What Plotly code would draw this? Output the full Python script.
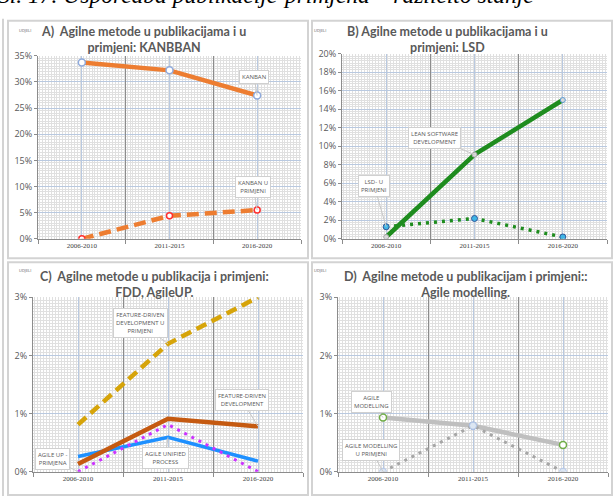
import plotly.graph_objects as go

W, H = 614, 502

categories = ["2006-2010", "2011-2015", "2016-2020"]

# A) KANBAN
kanban = [0.337, 0.322, 0.274]
kanban_primjena = [0.0, 0.044, 0.055]
# B) LSD
lsd = [0.002, 0.091, 0.150]
lsd_primjena = [0.013, 0.022, 0.002]
# C) FDD, AgileUP
fdd_primjena = [0.0081, 0.022, 0.030]
fdd = [0.0013, 0.0091, 0.0078]
agile_up = [0.0026, 0.0059, 0.0018]
agile_up_primjena = [0.0, 0.0081, 0.0]
# D) Agile modelling
agile_modelling = [0.0093, 0.0079, 0.0046]
agile_modelling_primjena = [0.0, 0.0079, 0.0]

xs = [i + 0.5 for i in range(len(categories))]
bounds = list(range(len(categories) + 1))


def px(x):
    return x / W


def py(y):
    return 1 - y / H


GREY_TXT = "#595959"
BLUE_GRID = "#B9C9E0"
MINOR_GRID = "#E0E0E0"

# panel: base axis suffix, overlay axis suffix (carries the traces), plot box in px (l, t, r, b),
# y range, y dtick, y minor dtick
panels = [
    dict(ax="", ov="5", box=(38, 50, 301, 238), yr=0.35, dt=0.05, mdt=0.005),
    dict(ax="2", ov="6", box=(342, 48, 607, 238), yr=0.20, dt=0.02, mdt=0.0025),
    dict(ax="3", ov="7", box=(33, 298, 303, 477), yr=0.03, dt=0.01, mdt=0.0005),
    dict(ax="4", ov="8", box=(338, 298, 608, 477), yr=0.03, dt=0.01, mdt=0.0005),
]
ov_of = {p["ax"]: p["ov"] for p in panels}

fig = go.Figure()


def line(ax, y, color, width, dash=None, marker=None, name=""):
    fig.add_trace(go.Scatter(
        x=xs, y=y, xaxis="x" + ov_of[ax], yaxis="y" + ax, name=name,
        mode="lines+markers" if marker else "lines",
        line=dict(color=color, width=width, dash=dash),
        marker=marker, hoverinfo="skip"))


# A
line("", kanban, "#ED7D31", 4.5,
     marker=dict(size=7, color="white", line=dict(color="#8FAADC", width=1.5)), name="KANBAN")
line("", kanban_primjena, "#ED7D31", 4.5, dash="12px,6px",
     marker=dict(size=6, color="white", line=dict(color="#FF3030", width=1.5)), name="KANBAN U PRIMJENI")
# B
line("2", lsd, "#1E8C1E", 4.5,
     marker=dict(size=5, color="#D9D9D9", line=dict(color=["#A6A6A6", "#A6A6A6", "#5B9BD5"], width=1)),
     name="LSD")
line("2", lsd_primjena, "#1E8C1E", 3.5, dash="3px,5px",
     marker=dict(size=6, color="#3FB5E5", line=dict(color="#2F5597", width=1)), name="LSD U PRIMJENI")
# C
line("3", fdd_primjena, "#D6A40A", 4.5, dash="11px,6px", name="FDD U PRIMJENI")
line("3", agile_up, "#1E90FF", 3.5, name="AGILE UP")
line("3", agile_up_primjena, "#CC33FF", 3, dash="3px,5px", name="AGILE UP PRIMJENA")
line("3", fdd, "#C55A11", 4.5, name="FDD")
# D
line("4", agile_modelling, "#BFBFBF", 4.5,
     marker=dict(size=7, color="white", line=dict(color=["#70AD47", "#8FAADC", "#70AD47"], width=1.5)),
     name="AGILE MODELLING")
line("4", agile_modelling_primjena, "#A6A6A6", 3, dash="3px,5px",
     marker=dict(size=7, color="#DCE6F2", line=dict(color="#B4C7E7", width=1)),
     name="AGILE MODELLING U PRIMJENI")

shapes = []
layout = {}
for p in panels:
    l, t, r, b = p["box"]
    ax, ov = p["ax"], p["ov"]
    layout["xaxis" + ax] = dict(
        domain=[px(l), px(r)], anchor="y" + ax, range=[0, 3],
        tickmode="array", tickvals=xs, ticktext=categories,
        tickfont=dict(family="Liberation Serif", size=7, color="#404040"),
        showgrid=True, gridcolor=BLUE_GRID, gridwidth=1,
        showline=True, linecolor="#8C8C8C", linewidth=1,
        ticks="", zeroline=False, fixedrange=True,
        # offset so the dense grid never sits on the category centres/boundaries
        minor=dict(tickmode="linear", tick0=1 / 60, dtick=1 / 30, showgrid=True,
                   gridcolor=MINOR_GRID, gridwidth=1),
    )
    # category boundaries: darker grid lines and tick marks
    layout["xaxis" + ov] = dict(
        overlaying="x" + ax, anchor="y" + ax, range=[0, 3],
        tickmode="array", tickvals=bounds, showticklabels=False,
        showgrid=True, gridcolor="#8C8C8C", gridwidth=1,
        ticks="outside", ticklen=4, tickcolor="#8C8C8C",
        showline=False, zeroline=False, fixedrange=True,
    )
    layout["yaxis" + ax] = dict(
        domain=[py(b), py(t)], anchor="x" + ax, range=[0, p["yr"]],
        dtick=p["dt"], tickformat=".0%",
        tickfont=dict(family="Open Sans", size=9, color=GREY_TXT),
        showgrid=True, gridcolor=BLUE_GRID, gridwidth=1,
        showline=True, linecolor="#8C8C8C", linewidth=1,
        ticks="outside", ticklen=3, tickcolor="#8C8C8C",
        zeroline=False, fixedrange=True,
        minor=dict(tickmode="linear", tick0=0, dtick=p["mdt"], showgrid=True,
                   gridcolor=MINOR_GRID, gridwidth=1),
    )

# panel frames
frames = [(8, 14, 308, 258), (312, 14, 612, 258), (8, 262, 308, 501), (312, 262, 612, 501)]
for l, t, r, b in frames:
    shapes.append(dict(type="rect", xref="paper", yref="paper",
                       x0=px(l), x1=px(r), y0=py(b), y1=py(t), layer="below",
                       line=dict(color="#D3D3D3", width=2)))
shapes.append(dict(type="line", xref="paper", yref="paper", x0=px(3), x1=px(3),
                   y0=0, y1=py(12), layer="below", line=dict(color="#D3D3D3", width=2)))

annotations = []

# header text, cut off at the top of the page
annotations.append(dict(
    text="<i>Sl. 17. Usporedba publikacije-primjena – različito stanje</i>",
    xref="paper", yref="paper", x=px(-4), y=py(3), xanchor="left", yanchor="bottom",
    showarrow=False, font=dict(family="Liberation Serif", size=23.5, color="black")))

titles = [
    ("A)  Agilne metode u publikacijama i u<br>primjeni: KANBBAN", 143, 33),
    ("B) Agilne metode u publikacijama i u<br>primjeni: LSD", 447, 33),
    ("C)  Agilne metode u publikacija i primjeni:<br>FDD, AgileUP.", 154, 285),
    ("D)  Agilne metode u publikacijam i primjeni::<br>Agile modelling.", 465, 285),
]
for text, cx, cy in titles:
    annotations.append(dict(text="<b>" + text.replace("<br>", "</b><br><b>") + "</b>",
                            xref="paper", yref="paper", x=px(cx), y=py(cy),
                            xanchor="center", yanchor="middle", showarrow=False,
                            font=dict(family="Lato", size=12.5, color=GREY_TXT)))

for cx, cy in [(17, 19), (320, 19), (17, 270), (320, 270)]:
    annotations.append(dict(text="UDJELI", xref="paper", yref="paper", x=px(cx), y=py(cy),
                            showarrow=False, font=dict(family="Open Sans", size=4, color=GREY_TXT)))

# callouts: (axis, series, index, text, box centre offset in px)
callouts = [
    ("", kanban, 2, "KANBAN", (-3, -18)),
    ("", kanban_primjena, 2, "KANBAN U<br>PRIMJENI", (-4, -23)),
    ("2", lsd, 1, "LEAN SOFTWARE<br>DEVELOPMENT", (-40, -17)),
    ("2", lsd_primjena, 0, "LSD- U<br>PRIMJENI", (-12, -41)),
    ("3", fdd_primjena, 1, "FEATURE-DRIVEN<br>DEVELOPMENT U<br>PRIMJENI", (-28, -21)),
    ("3", fdd, 2, "FEATURE-DRIVEN<br>DEVELOPMENT", (-16, -26)),
    ("3", agile_up_primjena, 0, "AGILE UP -<br>PRIMJENA", (-26, -13)),
    ("3", agile_up, 1, "AGILE UNIFIED<br>PROCESS", (-3, 21)),
    ("4", agile_modelling, 0, "AGILE<br>MODELLING", (-12, -16)),
    ("4", agile_modelling_primjena, 0, "AGILE MODELLING<br>U PRIMJENI", (-12, -22)),
]
for ax, series, i, text, (dx, dy) in callouts:
    annotations.append(dict(
        text=text, xref="x" + ax, yref="y" + ax, x=xs[i], y=series[i],
        ax=dx, ay=dy, showarrow=True, arrowhead=0, arrowwidth=1, arrowcolor="#C8C8C8",
        bgcolor="white", bordercolor="#D0D0D0", borderwidth=1, borderpad=2,
        font=dict(family="Open Sans", size=6, color=GREY_TXT)))

fig.update_layout(
    width=W, height=H, autosize=False,
    margin=dict(l=0, r=0, t=0, b=0),
    paper_bgcolor="white", plot_bgcolor="white",
    showlegend=False, shapes=shapes, annotations=annotations,
    **layout,
)

# page body has a default 8px margin; drop it so the figure sits at the window's corner
fig.write_html("out.html", config={"displayModeBar": False},
               post_script="document.body.style.margin='0px';")
